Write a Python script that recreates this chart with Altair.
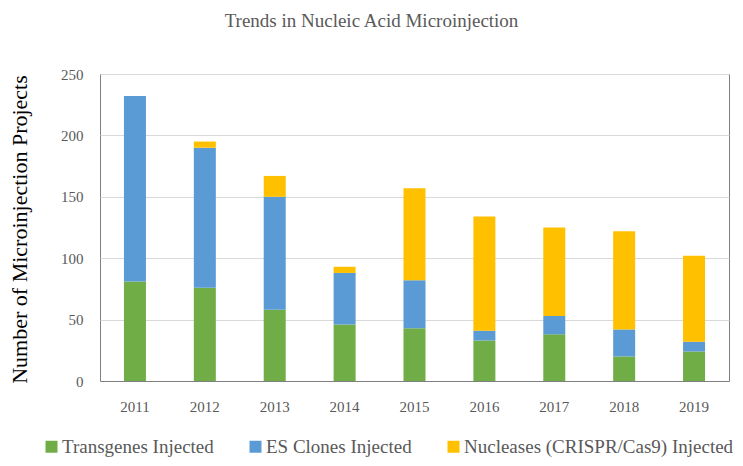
import altair as alt
import pandas as pd

years = ["2011", "2012", "2013", "2014", "2015", "2016", "2017", "2018", "2019"]
transgenes = [81, 76, 58, 46, 43, 33, 38, 20, 24]
es_clones = [151, 114, 92, 42, 39, 8, 15, 22, 8]
nucleases = [0, 5, 17, 5, 75, 93, 72, 80, 70]
series = ["Transgenes Injected", "ES Clones Injected", "Nucleases (CRISPR/Cas9) Injected"]
colors = ["#70AD47", "#5B9BD5", "#FFC000"]

rows = []
for i, y in enumerate(years):
    for k, vals in enumerate([transgenes, es_clones, nucleases]):
        rows.append({"Year": y, "Series": series[k], "Value": vals[i], "order": k})
df = pd.DataFrame(rows)

FONT = "Liberation Serif"

chart = alt.Chart(df).mark_bar(size=22).encode(
    x=alt.X("Year:N", sort=years, title=None,
            axis=alt.Axis(labelAngle=0, ticks=False, domain=True, domainColor="#7f7f7f",
                          labelColor="#595959", labelFontSize=15, labelFont=FONT, labelPadding=18)),
    y=alt.Y("Value:Q", stack="zero", title="Number of Microinjection Projects",
            scale=alt.Scale(domain=[0, 250], nice=False),
            axis=alt.Axis(values=[0, 50, 100, 150, 200, 250], ticks=False, domain=False,
                          gridColor="#D9D9D9", labelColor="#595959", labelFontSize=15, labelFont=FONT,
                          labelPadding=17, titleFont=FONT, titleFontSize=22, titleFontWeight="normal",
                          titleColor="#000000", titleX=-81, titleY=155, titleAngle=270,
                          titleAlign="center", titleBaseline="middle")),
    color=alt.Color("Series:N", sort=series,
                    scale=alt.Scale(domain=series, range=colors),
                    legend=alt.Legend(title=None, orient="none", direction="horizontal",
                                      legendX=-58, legendY=363, symbolType="square", symbolSize=144,
                                      symbolStrokeWidth=0, labelFont=FONT, labelFontSize=19,
                                      labelLimit=0, labelColor="#595959", columnPadding=32,
                                      labelOffset=1)),
    order=alt.Order("order:Q", sort="ascending"),
).properties(
    width=629, height=307,
    title=alt.TitleParams("Trends in Nucleic Acid Microinjection", font=FONT, fontSize=19,
                          fontWeight="normal", color="#595959", anchor="middle", dx=-43, offset=36),
    padding={"left": 92, "top": 66, "right": 6, "bottom": 77},
    autosize=alt.AutoSizeParams(type="none"),
).configure_view(stroke="#7f7f7f", strokeWidth=1)

chart.save("out.html", embed_options={"renderer": "svg", "actions": False})
